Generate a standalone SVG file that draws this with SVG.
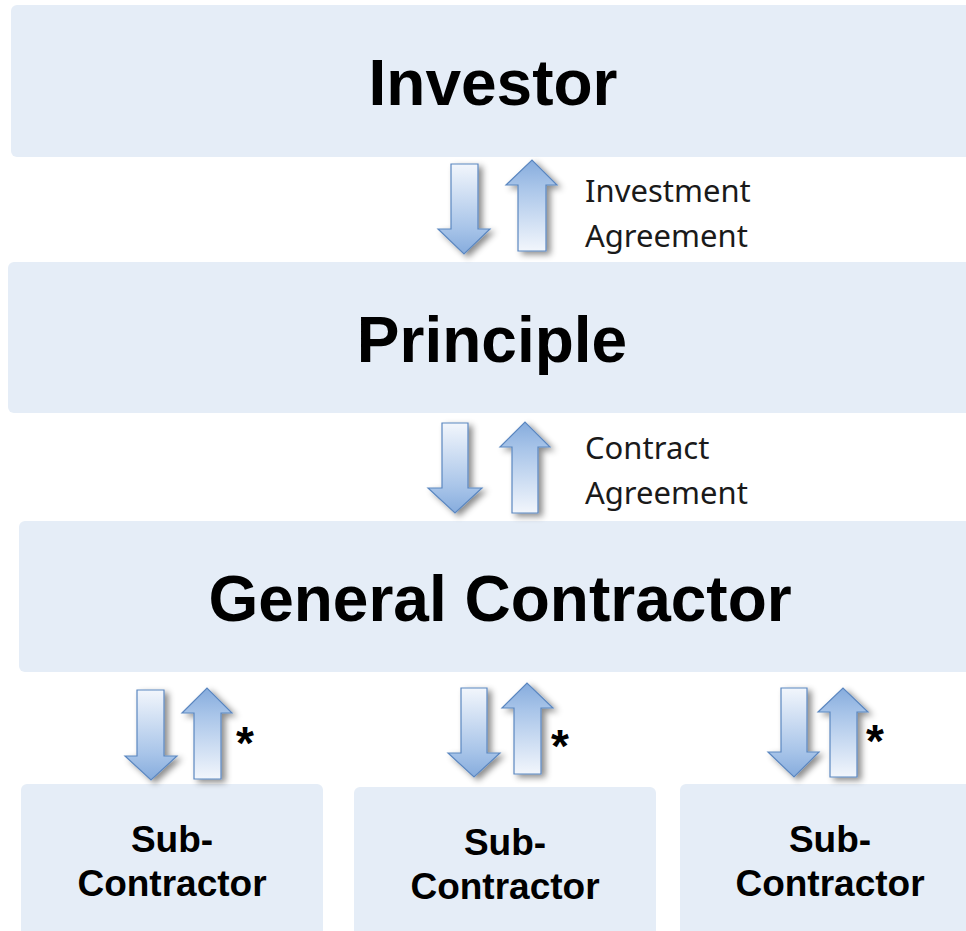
<svg xmlns="http://www.w3.org/2000/svg" width="966" height="931" viewBox="0 0 966 931">
  <style>
    .box { fill: #E5EDF7; }
    .title { font-family: "Liberation Sans", Arial, sans-serif; font-weight: bold; font-size: 64px; fill: #000; text-anchor: middle; }
    .sub { font-family: "Liberation Sans", Arial, sans-serif; font-weight: bold; font-size: 37px; fill: #000; text-anchor: middle; }
    .label { font-family: "Noto Sans", "Open Sans", sans-serif; font-size: 31px; fill: #1a1a1a; }
    .star { font-family: "Liberation Sans", Arial, sans-serif; font-weight: bold; font-size: 46px; fill: #000; }
    .arrow { stroke: #5B87C0; stroke-width: 1.2; stroke-linejoin: miter; }
    .down { fill: url(#gDown); }
    .up { fill: url(#gUp); }
  </style>
  <defs>
    <linearGradient id="gDown" x1="0" y1="0" x2="0" y2="1">
      <stop offset="0" stop-color="#F2F6FC"/>
      <stop offset="0.7" stop-color="#A9C5E9"/>
      <stop offset="1" stop-color="#86ACDD"/>
    </linearGradient>
    <linearGradient id="gUp" x1="0" y1="0" x2="0" y2="1">
      <stop offset="0" stop-color="#86ACDD"/>
      <stop offset="0.3" stop-color="#A9C5E9"/>
      <stop offset="1" stop-color="#F2F6FC"/>
    </linearGradient>
    <filter id="shadow" x="-40%" y="-20%" width="180%" height="140%">
      <feDropShadow dx="4" dy="3" stdDeviation="3" flood-color="#000" flood-opacity="0.45"/>
    </filter>
  </defs>

  <!-- nodes -->
  <g id="investor">
    <rect class="box" x="11" y="5" width="975" height="152" rx="6"/>
    <text class="title" x="493" y="105">Investor</text>
  </g>
  <g id="principle">
    <rect class="box" x="8" y="262" width="975" height="151" rx="6"/>
    <text class="title" x="492" y="362">Principle</text>
  </g>
  <g id="general-contractor">
    <rect class="box" x="19" y="521" width="975" height="151" rx="6"/>
    <text class="title" x="500" y="621">General Contractor</text>
  </g>
  <g id="sub-contractor-1">
    <rect class="box" x="21" y="784" width="302" height="170" rx="6"/>
    <text class="sub" x="172" y="852">Sub-</text>
    <text class="sub" x="172" y="896">Contractor</text>
  </g>
  <g id="sub-contractor-2">
    <rect class="box" x="354" y="787" width="302" height="170" rx="6"/>
    <text class="sub" x="505" y="855">Sub-</text>
    <text class="sub" x="505" y="899">Contractor</text>
  </g>
  <g id="sub-contractor-3">
    <rect class="box" x="680" y="784" width="302" height="170" rx="6"/>
    <text class="sub" x="830" y="852">Sub-</text>
    <text class="sub" x="830" y="896">Contractor</text>
  </g>

  <!-- connectors: paired block arrows -->
  <g id="connectors" class="arrow" filter="url(#shadow)">
    <!-- Investor / Principle -->
    <path class="down" d="M451,164 H478 V229 H490 L464,254 L438,229 H451 Z"/>
    <path class="up" d="M518,251 H546 V185 H557 L532,160 L506,185 H518 Z"/>
    <!-- Principle / General Contractor -->
    <path class="down" d="M442,423 H468 V488 H482 L455,513 L428,488 H442 Z"/>
    <path class="up" d="M512,513 H538 V447 H550 L525,422 L500,447 H512 Z"/>
    <!-- General Contractor / Sub-Contractors -->
    <path class="down" d="M137,690 H164 V756 H177 L151,780 L125,756 H137 Z"/>
    <path class="up" d="M194,779 H221 V713 H232 L207,688 L182,713 H194 Z"/>
    <path class="down" d="M461,688 H487 V753 H500 L474,777 L448,753 H461 Z"/>
    <path class="up" d="M514,774 H541 V708 H553 L527,683 L502,708 H514 Z"/>
    <path class="down" d="M781,688 H807 V752 H819 L794,777 L768,752 H781 Z"/>
    <path class="up" d="M830,777 H857 V712 H868 L843,688 L818,712 H830 Z"/>
  </g>

  <!-- connector labels -->
  <g id="labels">
    <text class="label" x="585" y="202">Investment</text>
    <text class="label" x="585" y="247">Agreement</text>
    <text class="label" x="585" y="459">Contract</text>
    <text class="label" x="585" y="504">Agreement</text>
    <text class="star" x="236" y="759">*</text>
    <text class="star" x="551" y="762">*</text>
    <text class="star" x="866" y="757">*</text>
  </g>
</svg>
